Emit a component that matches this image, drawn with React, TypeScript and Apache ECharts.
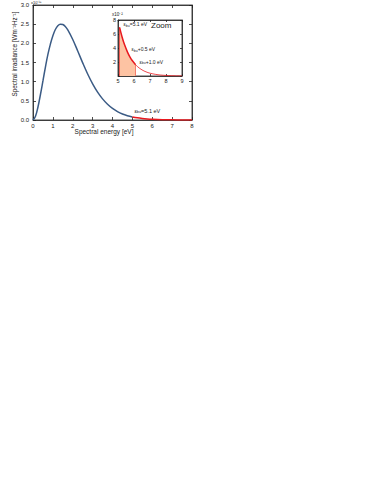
import React, { useEffect, useRef } from "react";
import * as echarts from "echarts";

// Main curve: spectral energy [eV] vs spectral irradiance (scaled)
const energy = [0, 0.125, 0.25, 0.375, 0.5, 0.625, 0.75, 0.875, 1.0, 1.125, 1.25, 1.375, 1.5, 1.625, 1.75, 2.0, 2.25, 2.5, 2.75, 3.0, 3.25, 3.5, 3.75, 4.0, 4.25, 4.5, 4.75, 5.0, 5.25, 5.5, 5.75, 6.0, 6.5, 7.0, 7.5, 8.0];
const irradiance = [0, 0.097, 0.34, 0.665, 1.02, 1.38, 1.71, 1.98, 2.2, 2.36, 2.46, 2.5, 2.49, 2.44, 2.35, 2.1, 1.8, 1.49, 1.2, 0.945, 0.728, 0.551, 0.411, 0.302, 0.22, 0.158, 0.113, 0.08, 0.056, 0.039, 0.027, 0.019, 0.0087, 0.004, 0.0018, 0.0008];
const cutoffEnergy = 5.0;

// Inset (zoom) curve, values ×10^-2
const insetEnergy = [5.1, 5.25, 5.4, 5.6, 5.75, 5.9, 6.1, 6.25, 6.5, 6.75, 7.0, 7.5, 8.0, 8.5, 9.0];
const insetValue = [6.94, 5.61, 4.52, 3.38, 2.71, 2.17, 1.61, 1.28, 0.874, 0.594, 0.402, 0.182, 0.081, 0.036, 0.016];
const markerEnergies = [5.1, 5.6, 6.1];
const markerLabels = ["=5.1 eV", "+0.5 eV", "+1.0 eV"];

const xAxisTitle = "Spectral energy [eV]";
const yAxisTitle = "Spectral irradiance [Wm⁻²Hz⁻¹]";

const BLUE = "#3b5b85";
const RED = "#e8191f";
const FILL = "#fdc3a3";
const FONT = "Liberation Sans, Arial, sans-serif";

export default function App() {
  const ref = useRef<HTMLDivElement>(null);
  useEffect(() => {
    if (!ref.current) return;
    const chart = echarts.init(ref.current, null, { renderer: "svg" });

    const mainBlue: number[][] = [];
    const mainRed: number[][] = [];
    energy.forEach((e, i) => {
      if (e <= cutoffEnergy) mainBlue.push([e, irradiance[i]]);
      if (e >= cutoffEnergy) mainRed.push([e, irradiance[i]]);
    });
    const lastMarker = markerEnergies[markerEnergies.length - 1];
    const insetThick: number[][] = [];
    const insetThin: number[][] = [];
    insetEnergy.forEach((e, i) => {
      if (e <= lastMarker) insetThick.push([e, insetValue[i]]);
      if (e >= lastMarker) insetThin.push([e, insetValue[i]]);
    });
    const markerLines = markerEnergies.map((e) => {
      const v = insetValue[insetEnergy.indexOf(e)];
      return [{ coord: [e, 0] }, { coord: [e, v] }];
    });

    const tickFont = { fontSize: 6, color: "#222", fontFamily: FONT };
    const epsLabel = (suffix: string) => `{e|ε}{s|bu}{t|${suffix}}`;
    const rich = (fs: number) => ({
      e: { fontSize: fs, fontFamily: FONT, color: "#222" },
      s: { fontSize: fs * 0.7, fontFamily: FONT, color: "#222", verticalAlign: "bottom", padding: [2.5, 0, 0, 0] },
      t: { fontSize: fs, fontFamily: FONT, color: "#222" },
    });

    const axisLine = { show: true, onZero: false, lineStyle: { color: "#222", width: 0.8 } };
    const axisTick = { show: true, inside: true, length: 3, lineStyle: { color: "#222", width: 0.8 } };
    const smallTick = { ...axisTick, length: 2 };

    chart.setOption({
      animation: false,
      backgroundColor: "#fff",
      grid: [
        { left: 33, right: 190, top: 5, bottom: 374, containLabel: false, show: true, borderColor: "#222", borderWidth: 0.8, backgroundColor: "transparent" },
        { left: 118, right: 200, top: 20, bottom: 418, containLabel: false, show: true, backgroundColor: "#fff", borderColor: "#222", borderWidth: 0.8 },
      ],
      xAxis: [
        {
          type: "value", gridIndex: 0, min: 0, max: 8, interval: 1,
          axisLine, axisTick, splitLine: { show: false },
          axisLabel: { ...tickFont, margin: 3, showMinLabel: true, showMaxLabel: true },
        },
        { type: "value", gridIndex: 0, position: "top", min: 0, max: 8, interval: 1, axisLine, axisTick, axisLabel: { show: false }, splitLine: { show: false } },
        {
          type: "value", gridIndex: 1, min: 5, max: 9, interval: 1,
          axisLine, axisTick: smallTick, splitLine: { show: false },
          axisLabel: { ...tickFont, fontSize: 5.5, margin: 2, showMinLabel: true, showMaxLabel: true },
        },
        { type: "value", gridIndex: 1, position: "top", min: 5, max: 9, interval: 1, axisLine, axisTick: smallTick, axisLabel: { show: false }, splitLine: { show: false } },
      ],
      yAxis: [
        {
          type: "value", gridIndex: 0, min: 0, max: 3, interval: 0.5,
          axisLine, axisTick, splitLine: { show: false },
          axisLabel: { ...tickFont, margin: 4, showMinLabel: true, showMaxLabel: true, formatter: (v: number) => v.toFixed(1) },
        },
        { type: "value", gridIndex: 0, position: "right", min: 0, max: 3, interval: 0.5, axisLine, axisTick, axisLabel: { show: false }, splitLine: { show: false } },
        {
          type: "value", gridIndex: 1, min: 0, max: 8, interval: 2,
          axisLine, axisTick: smallTick, splitLine: { show: false },
          axisLabel: { ...tickFont, fontSize: 5.5, margin: 2, showMaxLabel: true, formatter: (v: number) => (v === 0 ? "" : String(v)) },
        },
        { type: "value", gridIndex: 1, position: "right", min: 0, max: 8, interval: 2, axisLine, axisTick: smallTick, axisLabel: { show: false }, splitLine: { show: false } },
      ],
      series: [
        {
          type: "line", xAxisIndex: 0, yAxisIndex: 0, data: mainBlue, smooth: 0.4, showSymbol: false,
          lineStyle: { color: BLUE, width: 1.5 }, z: 3,
        },
        {
          type: "line", xAxisIndex: 0, yAxisIndex: 0, data: mainRed, smooth: 0.4, showSymbol: false,
          lineStyle: { color: RED, width: 1.5 }, z: 3,
          markPoint: {
            symbol: "circle", symbolSize: 0,
            data: [{ coord: [cutoffEnergy, irradiance[energy.indexOf(cutoffEnergy)]] }],
            label: { show: true, position: "right", offset: [-3, -6], formatter: epsLabel("=5.1 eV"), rich: rich(5.5) },
          },
        },
        {
          type: "line", xAxisIndex: 2, yAxisIndex: 2, data: insetThick, smooth: 0.4, showSymbol: false,
          lineStyle: { color: RED, width: 1.5 }, areaStyle: { color: FILL, opacity: 1 }, z: 5,
          markLine: {
            symbol: "none", silent: true, label: { show: false },
            lineStyle: { color: RED, width: 1, type: "solid" },
            data: markerLines,
          },
          markPoint: {
            symbol: "circle", symbolSize: 0,
            data: markerEnergies.map((e, i) => ({
              coord: [e, insetValue[insetEnergy.indexOf(e)]],
              label: {
                show: true, position: "right",
                offset: [-1, -3],
                formatter: epsLabel(markerLabels[i]), rich: rich(5),
              },
            })),
          },
        },
        {
          type: "line", xAxisIndex: 2, yAxisIndex: 2, data: insetThin, smooth: 0.4, showSymbol: false,
          lineStyle: { color: RED, width: 0.8 }, z: 5,
        },
      ],
      graphic: [
        { type: "text", x: 104, y: 131, z: 10, style: { text: xAxisTitle, fontSize: 6.5, fontFamily: FONT, fill: "#222", align: "center", verticalAlign: "middle" } },
        { type: "text", x: 14.5, y: 54, rotation: Math.PI / 2, z: 10, style: { text: yAxisTitle, fontSize: 6.3, fontFamily: FONT, fill: "#222", align: "center", verticalAlign: "middle" } },
        { type: "text", left: 151, top: 21, z: 10, style: { text: "Zoom", fontSize: 8, fontFamily: FONT, fill: "#222" } },
        { type: "text", left: 112, top: 12, z: 10, style: { text: "x10⁻²", fontSize: 4.5, fontFamily: FONT, fill: "#222" } },
        { type: "text", left: 31, top: 0, z: 10, style: { text: "x10⁻¹⁹", fontSize: 4, fontFamily: FONT, fill: "#222" } },
      ],
    });
    return () => chart.dispose();
  }, []);
  return <div ref={ref} style={{ position: "absolute", left: 0, top: 0, width: 382, height: 494 }} />;
}
